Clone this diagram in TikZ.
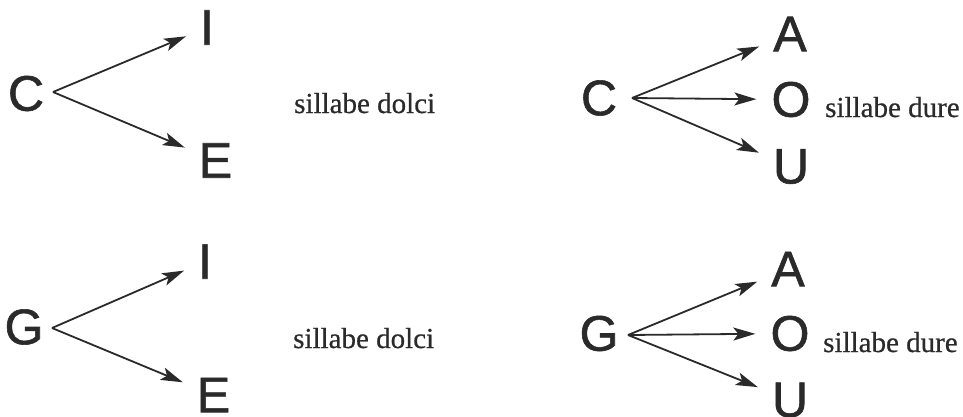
\documentclass[tikz,border=0pt]{standalone}
\usepackage{fontspec}
\setmainfont{Liberation Serif}[FakeBold=0.6]
\newfontfamily\letterfont{Liberation Sans}[FakeBold=1.2]
\usetikzlibrary{arrows.meta}
\definecolor{ink}{HTML}{2A2A2A}
\tikzset{
  letter/.style={inner sep=0pt, text=ink, font=\letterfont\fontsize{50}{50}\selectfont},
  label/.style={inner sep=0pt, anchor=base west, text=ink, font=\fontsize{29}{29}\selectfont},
  arr/.style={draw=ink, line width=1.8pt, -{Stealth[length=22pt,width=13pt,inset=5pt]}, shorten >=15pt},
}
\begin{document}
\begin{tikzpicture}[x=1pt,y=-1pt]
\useasboundingbox (0,0) rectangle (963,416);
% top left
\node[letter] (C1) at (26,93.5) {C};
\node[letter] (I1) at (207,27.5) {I};
\node[letter] (E1) at (215.5,160.5) {E};
\coordinate (f1) at (53,92);
\draw[arr] (f1) -- (I1);
\draw[arr] (f1) -- (E1);
\node[label] (d1) at (294,113) {sillabe dolci};
% top right
\node[letter] (C2) at (599,98) {C};
\node[letter] (A2) at (790,34) {A};
\node[letter] (O2) at (791,99.5) {O};
\node[letter] (U2) at (791,166.5) {U};
\coordinate (f2) at (632,98);
\draw[arr] (f2) -- (A2);
\draw[arr] (f2) -- (O2);
\draw[arr] (f2) -- (U2);
\node[label] (h2) at (825,117) {sillabe dure};
% bottom left
\node[letter] (G3) at (24,327) {G};
\node[letter] (I3) at (205,261.5) {I};
\node[letter] (E3) at (213.5,395) {E};
\coordinate (f3) at (52,328);
\draw[arr] (f3) -- (I3);
\draw[arr] (f3) -- (E3);
\node[label] (d3) at (293,348) {sillabe dolci};
% bottom right
\node[letter] (G4) at (599,333.5) {G};
\node[letter] (A4) at (788,269) {A};
\node[letter] (O4) at (790,333.5) {O};
\node[letter] (U4) at (790,400) {U};
\coordinate (f4) at (628,335);
\draw[arr] (f4) -- (A4);
\draw[arr] (f4) -- (O4);
\draw[arr] (f4) -- (U4);
\node[label] (h4) at (823,352) {sillabe dure};
\end{tikzpicture}
\end{document}
